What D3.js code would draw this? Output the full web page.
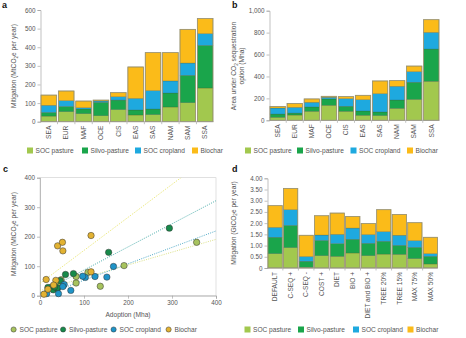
<!DOCTYPE html>
<html>
<head>
<meta charset="utf-8">
<script src="https://cdn.jsdelivr.net/npm/d3@7"></script>
<style>
  body { margin: 0; background: #fff; }
  svg { font-family: "Liberation Sans", Arial, sans-serif; }
  .tick text { fill: #555; font-size: 6.3px; }
  .tick line, .domain { stroke: #999; stroke-width: 0.6; }
</style>
</head>
<body>
<svg width="466" height="338"></svg>
<script>
// regions, same order in panels a, b (and the points in c)
const regions = ["SEA", "EUR", "MAF", "OCE", "CIS", "EAS", "SAS", "NAM", "SAM", "SSA"];
const options = ["SOC pasture", "Silvo-pasture", "SOC cropland", "Biochar"];

// panel a: mitigation (MtCO2e per year)
const mitPasture  = [30, 54, 43, 32, 65, 36, 38, 79, 102, 181];
const mitSilvo    = [20, 28, 25, 72, 51, 27, 30, 75, 147, 229];
const mitCropland = [38, 31, 7, 7, 18, 62, 99, 65, 66, 63];
const mitBiochar  = [55, 52, 36, 5, 22, 169, 204, 152, 181, 81];

// panel b: area under option (Mha)
const areaPasture  = [27, 48, 82, 137, 82, 46, 43, 109, 191, 356];
const areaSilvo    = [30, 18, 40, 58, 46, 39, 33, 76, 156, 294];
const areaCropland = [55, 52, 42, 15, 70, 103, 167, 125, 97, 152];
const areaBiochar  = [14, 36, 31, 9, 18, 40, 116, 52, 51, 116];

// panel d: scenarios (GtCO2e per year)
const scenarios = ["DEFAULT", "C-SEQ +", "C-SEQ -", "COST +", "DIET", "BIO +",
  "DIET and BIO +", "TREE 20%", "TREE 15%", "MAX 75%", "MAX 50%"];
const scnPasture  = [0.64, 0.91, 0.03, 0.55, 0.52, 0.67, 0.55, 0.62, 0.61, 0.42, 0.18];
const scnSilvo    = [0.73, 0.99, 0.27, 0.68, 0.57, 0.61, 0.55, 0.57, 0.40, 0.50, 0.34];
const scnCropland = [0.44, 0.70, 0.21, 0.24, 0.41, 0.50, 0.39, 0.43, 0.45, 0.30, 0.12];
const scnBiochar  = [0.97, 0.95, 0.95, 0.86, 0.95, 0.52, 0.49, 0.98, 0.93, 0.80, 0.73];

const ticksA = [0, 100, 200, 300, 400, 500, 600];
const ticksB = [0, 200, 400, 600, 800, 1000];
const ticksC = [0, 100, 200, 300, 400];
const ticksD = [0, 0.5, 1, 1.5, 2, 2.5, 3, 3.5, 4];

const barColors = ["#a2c84e", "#1aa54b", "#1ea9df", "#fbbb19"];
const dotColors = ["#a7c35e", "#178a4a", "#1f94c8", "#e2b232"];
const lineColors = ["#d6dc78", "#3aa5a2", "#3b9fbf", "#e4e15a"];

const svg = d3.select("svg");
const textCol = "#555";

function rowsFrom(cats, series) {
  return cats.map((c, i) => {
    const r = { cat: c };
    options.forEach((o, k) => r[o] = series[k][i]);
    return r;
  });
}

// lines: arrays of parts, a part is a string or {s: "2"} for a subscript
function yLabel(x, y, lines) {
  const t = svg.append("text")
    .attr("transform", `translate(${x},${y}) rotate(-90)`)
    .attr("text-anchor", "middle")
    .attr("fill", textCol)
    .style("font-size", "6.6px");
  lines.forEach((ln, i) => {
    const tl = t.append("tspan").attr("x", 0).attr("dy", i === 0 ? 0 : "1.25em");
    let back = 0;
    ln.forEach(part => {
      if (typeof part === "object") {
        tl.append("tspan").text(part.s).style("font-size", "4.6px").attr("dy", 1.5);
        back = -1.5;
      } else {
        const sp = tl.append("tspan").text(part);
        if (back) sp.attr("dy", back);
        back = 0;
      }
    });
  });
}

function panelLetter(x, y, s) {
  svg.append("text").attr("x", x).attr("y", y).text(s)
    .style("font-size", "9px").style("font-weight", "bold").attr("fill", "#111");
}

function legend(y, xs, circles) {
  options.forEach((o, i) => {
    const g = svg.append("g").attr("transform", `translate(${xs[i]},${y})`);
    if (circles) {
      g.append("circle").attr("cx", 2.6).attr("cy", 0).attr("r", 2.6)
        .attr("fill", dotColors[i]).attr("stroke", "#333").attr("stroke-width", 0.5);
    } else {
      g.append("rect").attr("x", 0).attr("y", -3).attr("width", 6).attr("height", 6)
        .attr("fill", barColors[i]);
    }
    g.append("text").attr("x", 8.5).attr("y", 2.3).text(o)
      .attr("fill", textCol).style("font-size", "6.6px");
  });
}

function stackedPanel(cats, series, xRange, yRange, yMax, ticks, fmt, pad) {
  const rows = rowsFrom(cats, series);
  const stack = d3.stack().keys(options)(rows);
  const x = d3.scaleBand().domain(cats).range(xRange).paddingInner(pad).paddingOuter(0.03);
  const y = d3.scaleLinear().domain([0, yMax]).range(yRange);

  svg.append("g").attr("transform", `translate(${xRange[0]},0)`)
    .call(d3.axisLeft(y).tickValues(ticks).tickFormat(fmt).tickSize(3).tickPadding(2));

  const g = svg.append("g");
  stack.forEach((layer, k) => {
    g.selectAll(null).data(layer).join("rect")
      .attr("x", d => x(d.data.cat))
      .attr("width", x.bandwidth())
      .attr("y", d => y(d[1]))
      .attr("height", d => y(d[0]) - y(d[1]))
      .attr("fill", barColors[k])
      .attr("stroke", "#3d4a2a").attr("stroke-opacity", 0.45).attr("stroke-width", 0.5);
  });
  // outline of each bar
  g.selectAll(null).data(rows).join("rect")
    .attr("x", d => x(d.cat))
    .attr("width", x.bandwidth())
    .attr("y", d => y(d3.sum(options, o => d[o])))
    .attr("height", d => y(0) - y(d3.sum(options, o => d[o])))
    .attr("fill", "none").attr("stroke", "#9c9472").attr("stroke-width", 0.8);

  // baseline and category ticks
  svg.append("line").attr("x1", xRange[0]).attr("x2", xRange[1])
    .attr("y1", y(0)).attr("y2", y(0)).attr("stroke", "#999").attr("stroke-width", 0.6);
  const step = x.step();
  cats.forEach((c, i) => {
    const bx = x(c) + x.bandwidth() + (step - x.bandwidth()) / 2;
    if (i < cats.length - 1)
      svg.append("line").attr("x1", bx).attr("x2", bx).attr("y1", y(0)).attr("y2", y(0) + 2.5)
        .attr("stroke", "#999").attr("stroke-width", 0.6);
  });
  svg.append("g").selectAll("text").data(cats).join("text")
    .attr("transform", d => `translate(${x(d) + x.bandwidth() / 2 + 2.2},${y(0) + 4}) rotate(-90)`)
    .attr("text-anchor", "end")
    .attr("fill", textCol)
    .style("font-size", "6.6px")
    .text(d => d);
}

// ---- panel a
panelLetter(2, 8, "a");
stackedPanel(regions, [mitPasture, mitSilvo, mitCropland, mitBiochar],
  [40.5, 213.5], [121.7, 10], 600, ticksA, d3.format("d"), 0.1);
yLabel(16, 66, [["Mitigation (MtCO", { s: "2" }, "e per year)"]]);
legend(150.5, [27, 82, 135, 192], false);

// ---- panel b
panelLetter(232, 8, "b");
stackedPanel(regions, [areaPasture, areaSilvo, areaCropland, areaBiochar],
  [269.5, 439.5], [120.3, 10.7], 1000, ticksB, d3.format(","), 0.1);
yLabel(236, 66, [["Area under CO", { s: "2" }, " sequestration"], ["option (Mha)"]]);
legend(150.5, [245, 297, 350.5, 407], false);

// ---- panel c (scatter: area vs mitigation per region)
panelLetter(3, 172, "c");
const xC = d3.scaleLinear().domain([0, 400]).range([40, 216]);
const yC = d3.scaleLinear().domain([0, 400]).range([295.7, 177.7]);
svg.append("rect").attr("x", 40).attr("y", 177.7).attr("width", 176).attr("height", 118)
  .attr("fill", "none").attr("stroke", "#ccc").attr("stroke-width", 0.6);
svg.append("g").attr("transform", "translate(0,295.7)")
  .call(d3.axisBottom(xC).tickValues(ticksC).tickSize(3).tickPadding(2));
svg.append("g").attr("transform", "translate(40,0)")
  .call(d3.axisLeft(yC).tickValues(ticksC).tickSize(3).tickPadding(2));

const areaSeries = [areaPasture, areaSilvo, areaCropland, areaBiochar];
const mitSeries = [mitPasture, mitSilvo, mitCropland, mitBiochar];
svg.append("clipPath").attr("id", "clipC").append("rect")
  .attr("x", 40).attr("y", 177.7).attr("width", 176).attr("height", 118);

// least-squares trend line per option
const trend = svg.append("g").attr("clip-path", "url(#clipC)");
options.forEach((o, k) => {
  const xs = areaSeries[k], ys = mitSeries[k];
  const mx = d3.mean(xs), my = d3.mean(ys);
  const slope = d3.sum(xs, (v, i) => (v - mx) * (ys[i] - my)) / d3.sum(xs, v => (v - mx) ** 2);
  const icpt = my - slope * mx;
  trend.append("line")
    .attr("x1", xC(0)).attr("y1", yC(icpt))
    .attr("x2", xC(400)).attr("y2", yC(icpt + slope * 400))
    .attr("stroke", lineColors[k]).attr("stroke-width", 0.9)
    .attr("stroke-dasharray", "1,1.3");
});
const dots = svg.append("g");
options.forEach((o, k) => {
  dots.selectAll(null).data(regions.map((r, i) => [areaSeries[k][i], mitSeries[k][i]]))
    .join("circle")
    .attr("cx", d => xC(d[0])).attr("cy", d => yC(d[1])).attr("r", 3.2)
    .attr("fill", dotColors[k]).attr("stroke", "#333").attr("stroke-width", 0.5);
});
svg.append("text").attr("x", 128).attr("y", 317).attr("text-anchor", "middle")
  .attr("fill", textCol).style("font-size", "6.6px").text("Adoption (Mha)");
yLabel(16, 234, [["Mitigation (MtCO", { s: "2" }, "e per year)"]]);
legend(329.5, [11, 60.5, 111, 166], true);

// ---- panel d
panelLetter(232, 172, "d");
stackedPanel(scenarios, [scnPasture, scnSilvo, scnCropland, scnBiochar],
  [267.5, 438], [268, 178.3], 4, ticksD, d => d === 0 ? "0" : d3.format(".2f")(d), 0.08);
yLabel(235.5, 223, [["Mitigation (GtCO", { s: "2" }, "e per year)"]]);
legend(329.5, [244.5, 298, 353, 407.5], false);
</script>
</body>
</html>
